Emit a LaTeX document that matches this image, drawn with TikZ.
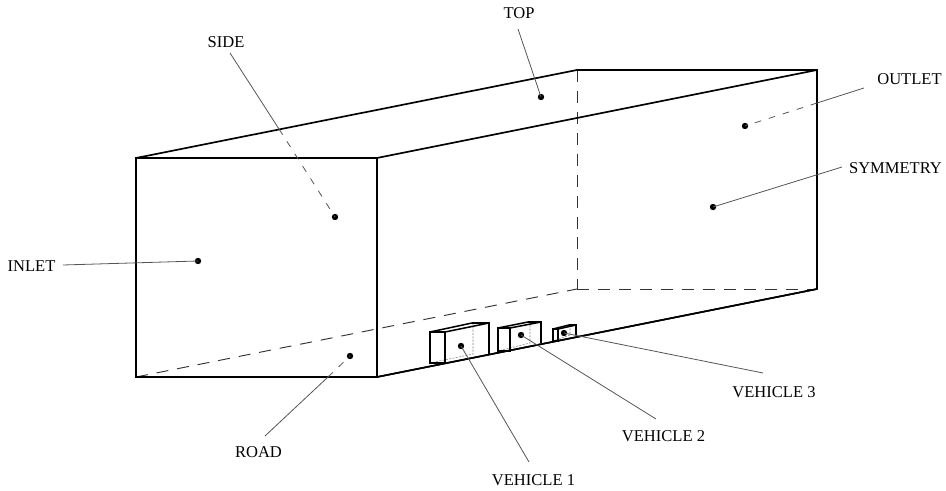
\documentclass[tikz,border=0pt]{standalone}
\usepackage{fontspec}
\setmainfont{Liberation Serif}
\usepackage{xcolor}
\usetikzlibrary{calc}
\definecolor{GrisLider}{RGB}{85,85,85}
\definecolor{GrisOculto}{RGB}{130,130,130}
\tikzset{
    arista/.style={line width=1.25pt,black,line join=miter},
    oculta/.style={line width=0.7pt,black!80,dash pattern=on 9pt off 6.7pt},
    lider/.style={line width=0.6pt,GrisLider},
    liderOculto/.style={lider,dash pattern=on 5pt off 6pt},
    coche/.style={line width=1.15pt,black},
    cocheOculto/.style={line width=0.4pt,GrisOculto,dash pattern=on 1.5pt off 1pt},
    etiqueta/.style={inner sep=0pt,font=\fontsize{12.4}{14}\selectfont}
}
\begin{document}
\begin{tikzpicture}[x=0.75pt,y=-0.75pt]
    \useasboundingbox (0,0) rectangle (946,491);

    % caja
    \coordinate (FTL) at (136,158);
    \coordinate (FTR) at (377,158);
    \coordinate (FBL) at (136,377);
    \coordinate (FBR) at (377,377);
    \coordinate (BTL) at (577,70);
    \coordinate (BTR) at (817,70);
    \coordinate (BBL) at (577,289);
    \coordinate (BBR) at (817,289);

    \draw[oculta] (FBL) -- (BBL);
    \draw[oculta] (BBL) -- (BBR);
    \draw[oculta] (BTL) -- (BBL);
    \draw[arista] (FTL) rectangle (FBR);
    \draw[arista] (FTL) -- (BTL) -- (BTR) -- (BBR) -- (FBR);
    \draw[arista] (FTR) -- (BTR);

    % vehiculos
    \foreach \xa/\xb/\xc/\xd/\xe/\ya/\yb/\yc/\yd/\ye in {
        430/445/472/489/473/332/363/360/323/354,
        498/510/528/541/530/328/351/349/322/343,
        553/558/569/576/570/329/341/340/325/335}{
        \draw[cocheOculto] (\xe,\yd) -- (\xe,\ye) -- (\xa,\yb);
        \draw[coche] (\xa,\ya) rectangle (\xb,\yb);
        \draw[coche] (\xb,\ya) -- (\xb,\yc) (\xb,\ya) -- (\xd,\yd) -- (\xd,\ye);
        \draw[coche] (\xa,\ya) -- (\xc,\yd) -- (\xd,\yd);
    }
    \draw[arista] (FBR) -- (BBR);

    % puntos
    \coordinate (ptoInlet) at (198,261);
    \coordinate (ptoSide) at (335,217);
    \coordinate (ptoTop) at (541,97);
    \coordinate (ptoOutlet) at (745,126);
    \coordinate (ptoSym) at (713,207);
    \coordinate (ptoRoad) at (350,356);
    \coordinate (ptoV1) at (461,346);
    \coordinate (ptoV2) at (521,335);
    \coordinate (ptoV3) at (564,333);
    \foreach \p in {ptoInlet,ptoSide,ptoTop,ptoOutlet,ptoSym,ptoRoad,ptoV1,ptoV2,ptoV3}
        \fill (\p) circle (2.4pt);

    % etiquetas
    \node[etiqueta] (lblInlet) at (31.5,266) {INLET};
    \node[etiqueta] (lblSide) at (226,42) {SIDE};
    \node[etiqueta] (lblTop) at (519,13) {TOP};
    \node[etiqueta] (lblOutlet) at (909.5,79) {OUTLET};
    \node[etiqueta] (lblSym) at (895.5,168) {SYMMETRY};
    \node[etiqueta] (lblRoad) at (258.5,452) {ROAD};
    \node[etiqueta] (lblV1) at (533.5,480) {VEHICLE 1};
    \node[etiqueta] (lblV2) at (663.5,436) {VEHICLE 2};
    \node[etiqueta] (lblV3) at (774,392) {VEHICLE 3};

    % cruces con las aristas
    \coordinate (cruceSide) at (279,129);
    \coordinate (cruceOutlet) at (817,103);
    \coordinate (cruceRoad) at (328,377);

    \draw[lider] ($(lblInlet)+(31.5,-1)$) -- (ptoInlet);
    \draw[lider] ($(lblSide)+(4,11)$) -- (cruceSide);
    \draw[liderOculto] (cruceSide) -- (ptoSide);
    \draw[lider] ($(lblTop)+(-1,16)$) -- (ptoTop);
    \draw[lider] ($(lblOutlet)+(-45.5,9)$) -- (cruceOutlet);
    \draw[liderOculto] (cruceOutlet) -- (ptoOutlet);
    \draw[lider] ($(lblSym)+(-53.5,-1)$) -- (ptoSym);
    \draw[lider] ($(lblRoad)+(6.5,-16)$) -- (cruceRoad);
    \draw[liderOculto] (cruceRoad) -- (ptoRoad);
    \draw[lider] ($(lblV1)+(-4.5,-18)$) -- (ptoV1);
    \draw[lider] ($(lblV2)+(-7.5,-17)$) -- (ptoV2);
    \draw[lider] ($(lblV3)+(-11,-19)$) -- (ptoV3);
\end{tikzpicture}
\end{document}
